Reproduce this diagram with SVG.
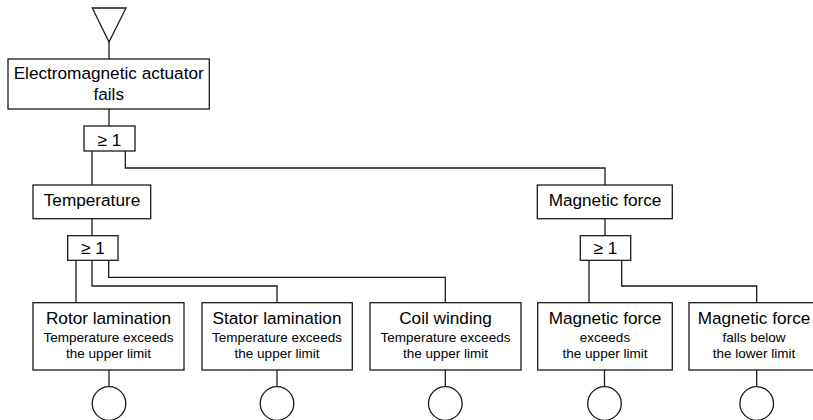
<svg xmlns="http://www.w3.org/2000/svg" width="813" height="420" viewBox="0 0 813 420">
<style>
.b{fill:#fff;stroke:#1a1a1a;stroke-width:1.3}
.c{fill:none;stroke:#1a1a1a;stroke-width:1.3}
.t{font-family:"Liberation Sans",Arial,sans-serif;font-size:17.2px;fill:#000;text-anchor:middle}
.s{font-family:"Liberation Sans",Arial,sans-serif;font-size:13.5px;fill:#000;text-anchor:middle}
</style>
<rect width="813" height="420" fill="#fff"/>
<g id="connectors" class="c">
<path d="M109 42V59"/>
<path d="M109 109V126"/>
<path d="M92 151V185"/>
<path d="M125.3 151V168H605V185"/>
<path d="M92 218.7V235.7"/>
<path d="M605 218.7V235.7"/>
<path d="M76 260.3V302.7"/>
<path d="M92 260.3V286H277V302.7"/>
<path d="M108.7 260.3V277.3H445.3V302.7"/>
<path d="M589 260.3V302.7"/>
<path d="M621.7 260.3V286H756.7V302.7"/>
<path d="M109 370V386.7"/>
<path d="M277 370V386.7"/>
<path d="M445.3 370V386.7"/>
<path d="M604.5 370V386.7"/>
<path d="M756.7 370V386.7"/>
</g>
<g id="top-transfer"><path class="b" d="M92.3 8H126L109 42Z"/></g>
<g id="top-event">
<rect class="b" x="8" y="59" width="201.3" height="50"/>
<text class="t" x="108.7" y="79">Electromagnetic actuator</text>
<text class="t" x="108.7" y="100">fails</text>
</g>
<g id="gate-top">
<rect class="b" x="84" y="126" width="51" height="25"/>
<text class="t" x="109.5" y="145.5">≥ 1</text>
</g>
<g id="temperature">
<rect class="b" x="33" y="185" width="117.7" height="33.7"/>
<text class="t" x="92" y="206">Temperature</text>
</g>
<g id="gate-temp">
<rect class="b" x="67.7" y="235.7" width="50.3" height="24.6"/>
<text class="t" x="93" y="254">≥ 1</text>
</g>
<g id="magnetic-force">
<rect class="b" x="537.3" y="185" width="135" height="33.7"/>
<text class="t" x="605" y="206">Magnetic force</text>
</g>
<g id="gate-mag">
<rect class="b" x="580.3" y="235.7" width="50.4" height="24.6"/>
<text class="t" x="605.5" y="254">≥ 1</text>
</g>
<g id="rotor">
<rect class="b" x="33" y="302.7" width="151" height="67.3"/>
<text class="t" x="108.5" y="324">Rotor lamination</text>
<text class="s" x="108.5" y="341.7">Temperature exceeds</text>
<text class="s" x="108.5" y="358.3">the upper limit</text>
</g>
<g id="stator">
<rect class="b" x="202" y="302.7" width="150.3" height="67.3"/>
<text class="t" x="277" y="324">Stator lamination</text>
<text class="s" x="277" y="341.7">Temperature exceeds</text>
<text class="s" x="277" y="358.3">the upper limit</text>
</g>
<g id="coil">
<rect class="b" x="370" y="302.7" width="151" height="67.3"/>
<text class="t" x="445.5" y="324">Coil winding</text>
<text class="s" x="445.5" y="341.7">Temperature exceeds</text>
<text class="s" x="445.5" y="358.3">the upper limit</text>
</g>
<g id="mag-upper">
<rect class="b" x="537.7" y="302.7" width="134.6" height="67.3"/>
<text class="t" x="605" y="324">Magnetic force</text>
<text class="s" x="605" y="341.7">exceeds</text>
<text class="s" x="605" y="358.3">the upper limit</text>
</g>
<g id="mag-lower">
<rect class="b" x="689" y="302.7" width="135" height="67.3"/>
<text class="t" x="754" y="324">Magnetic force</text>
<text class="s" x="754" y="341.7">falls below</text>
<text class="s" x="754" y="358.3">the lower limit</text>
</g>
<g id="basic-events" class="b">
<circle cx="109" cy="403.5" r="16.8"/>
<circle cx="277" cy="403.5" r="16.8"/>
<circle cx="445.3" cy="403.5" r="16.8"/>
<circle cx="604.5" cy="403.5" r="16.8"/>
<circle cx="756.7" cy="403.5" r="16.8"/>
</g>
</svg>
